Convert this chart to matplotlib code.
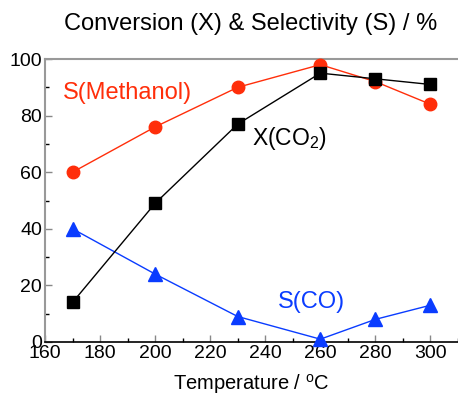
import matplotlib
matplotlib.use("Agg")
import matplotlib.pyplot as plt
from matplotlib.ticker import MultipleLocator

plt.rcParams['font.family'] = ['Liberation Sans', 'DejaVu Sans']
plt.rcParams['mathtext.fontset'] = 'custom'
plt.rcParams['mathtext.rm'] = 'Liberation Sans'

temperature = [170, 200, 230, 260, 280, 300]
s_methanol = [60, 76, 90, 98, 92, 84]
x_co2 = [14, 49, 77, 95, 93, 91]
s_co = [40, 24, 9, 1, 8, 13]

red = '#ff2e0a'
blue = '#0a3cff'

fig = plt.figure(figsize=(4.58, 3.94), dpi=100)
ax = fig.add_axes([45/458, 52/394, 413/458, 283/394])

ax.plot(temperature, s_methanol, '-o', color=red, lw=1.0, ms=9, clip_on=False, zorder=3)
ax.plot(temperature, x_co2, '-s', color='black', mfc='black', lw=1.0, ms=8, clip_on=False, zorder=4)
ax.plot(temperature, s_co, '-^', color=blue, lw=1.0, ms=9.5, clip_on=False, zorder=3)

ax.set_xlim(160, 310)
ax.set_ylim(0, 100)
ax.xaxis.set_major_locator(MultipleLocator(20))
ax.xaxis.set_minor_locator(MultipleLocator(10))
ax.yaxis.set_major_locator(MultipleLocator(20))
ax.yaxis.set_minor_locator(MultipleLocator(10))

for s in ['left', 'top']:
    ax.spines[s].set_color('#999999')
    ax.spines[s].set_linewidth(1.5)
ax.spines['bottom'].set_color('black')
ax.spines['bottom'].set_linewidth(1.2)
ax.spines['right'].set_visible(False)

ax.tick_params(which='major', direction='in', length=5, width=1, color='#888888', labelsize=14, pad=2)
ax.tick_params(which='minor', direction='in', length=3, width=1, color='black')
ax.tick_params(axis='y', which='both', right=False)
ax.tick_params(axis='x', which='both', top=False)

ax.text(166.4, 88, 'S(Methanol)', color=red, fontsize=17, va='center', ha='left')
ax.text(235.2, 72, 'X(CO$_2$)', color='black', fontsize=16.5, va='center', ha='left')
ax.text(244.7, 14.3, 'S(CO)', color=blue, fontsize=17, va='center', ha='left')

fig.text(251/458, 1 - 24/394, 'Conversion (X) & Selectivity (S) / %', fontsize=17, ha='center', va='center')
ax.set_xlabel('Temperature / $^{\\mathrm{o}}$C', fontsize=14.5, labelpad=7)

fig.savefig('out.png', dpi=100)
